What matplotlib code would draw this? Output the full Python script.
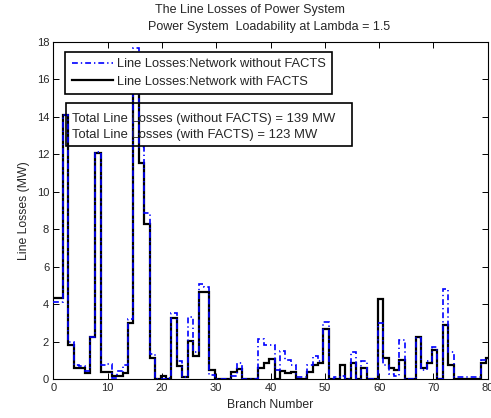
import numpy as np
import matplotlib
matplotlib.use("Agg")
import matplotlib.pyplot as plt
from matplotlib.patches import Rectangle

# ---- data ----
branch = np.arange(1, 81)

loss_without = [4.10, 14.10, 2.00, 0.76, 0.70, 0.45, 2.25, 12.15, 0.75, 0.80,
                0.05, 0.45, 0.75, 3.22, 17.67, 12.40, 8.86, 1.35, 0.00, 0.00,
                0.05, 3.55, 0.95, 0.12, 3.35, 1.45, 5.10, 4.90, 0.25, 0.00,
                0.00, 0.00, 0.20, 0.85, 0.00, 0.00, 0.00, 2.14, 1.83, 1.83,
                0.50, 1.50, 1.03, 0.76, 0.14, 0.10, 0.75, 1.25, 1.00, 3.08,
                0.00, 0.10, 0.20, 0.00, 1.47, 0.00, 1.00, 0.00, 0.00, 3.00,
                0.75, 0.30, 0.15, 2.10, 0.00, 0.00, 2.20, 0.50, 1.00, 1.74,
                0.00, 4.80, 1.45, 0.12, 0.12, 0.12, 0.12, 0.12, 1.05, 1.10]

loss_with = [4.32, 14.10, 1.84, 0.62, 0.58, 0.35, 2.27, 12.10, 0.40, 0.40,
             0.15, 0.15, 0.35, 3.00, 16.20, 11.53, 8.29, 1.12, 0.00, 0.20,
             0.00, 3.28, 0.70, 0.10, 2.06, 1.24, 4.68, 4.68, 0.50, 0.00,
             0.00, 0.00, 0.40, 0.55, 0.00, 0.00, 0.00, 0.59, 0.89, 1.07,
             0.00, 0.46, 0.35, 0.40, 0.00, 0.00, 0.40, 0.75, 0.85, 2.70,
             0.00, 0.00, 0.76, 0.00, 0.89, 0.00, 0.59, 0.00, 0.00, 4.27,
             1.12, 0.59, 0.50, 1.03, 0.00, 0.00, 2.28, 0.59, 0.85, 1.56,
             0.00, 2.90, 0.76, 0.00, 0.00, 0.00, 0.00, 0.00, 0.85, 1.12]

total_without = 139
total_with = 123

x_ticks = list(range(0, 81, 10))
y_ticks = list(range(0, 19, 2))

# ---- figure ----
plt.rcParams['font.family'] = ['Liberation Sans', 'DejaVu Sans']
txt_color = '#262626'

fig = plt.figure(figsize=(4.91, 4.18), dpi=100)
ax = fig.add_axes([0.1086, 0.0926, 0.8847, 0.8069])

edges = np.concatenate(([0.0], branch[1:] - 0.25, [80.0]))

ax.stairs(loss_without, edges, baseline=None, color=(0, 0, 1),
          linewidth=1.2, linestyle=(0, (3.5, 1.8, 0.8, 1.8)),
          label='Line Losses:Network without FACTS', zorder=3)
ax.stairs(loss_with, edges, baseline=None, color='black',
          linewidth=1.6, label='Line Losses:Network with FACTS', zorder=2)

ax.set_xlim(0, 80)
ax.set_ylim(0, 18)
ax.set_xticks(x_ticks)
ax.set_yticks(y_ticks)
ax.tick_params(direction='in', length=4, width=0.7, top=True, right=True,
               labelsize=8, colors='black', labelcolor=txt_color, pad=3)
for s in ax.spines.values():
    s.set_linewidth(0.8)
    s.set_color('black')

ax.set_xlabel('Branch Number', fontsize=8.8, color=txt_color, labelpad=4)
ax.set_ylabel('Line Losses (MW)', fontsize=8.8, color=txt_color, labelpad=5)

fig.text(0.509, 0.975, 'The Line Losses of Power System', ha='center',
         va='center', fontsize=9, color=txt_color)
fig.text(0.548, 0.935, 'Power System  Loadability at Lambda = 1.5',
         ha='center', va='center', fontsize=9, color=txt_color)

leg = ax.legend(loc='upper left', bbox_to_anchor=(0.027, 0.971),
                borderaxespad=0, fontsize=9.3, handlelength=3.2,
                handletextpad=0.3, labelspacing=0.42, borderpad=0.5,
                fancybox=False, framealpha=1, edgecolor='black')
leg.get_frame().set_linewidth(1.2)
for t in leg.get_texts():
    t.set_color(txt_color)
leg.set_zorder(10)

# text box with totals (transparent face)
ax.add_patch(Rectangle((0.0285, 0.692), 0.6585, 0.126, transform=ax.transAxes,
                       fill=False, edgecolor='black', linewidth=1.2, zorder=5))
ax.text(0.042, 0.772, f'Total Line Losses (without FACTS) = {total_without} MW',
        transform=ax.transAxes, fontsize=9.4, va='center', ha='left',
        color=txt_color, zorder=6)
ax.text(0.042, 0.725, f'Total Line Losses (with FACTS) = {total_with} MW',
        transform=ax.transAxes, fontsize=9.4, va='center', ha='left',
        color=txt_color, zorder=6)

fig.savefig('out.png', dpi=100)
